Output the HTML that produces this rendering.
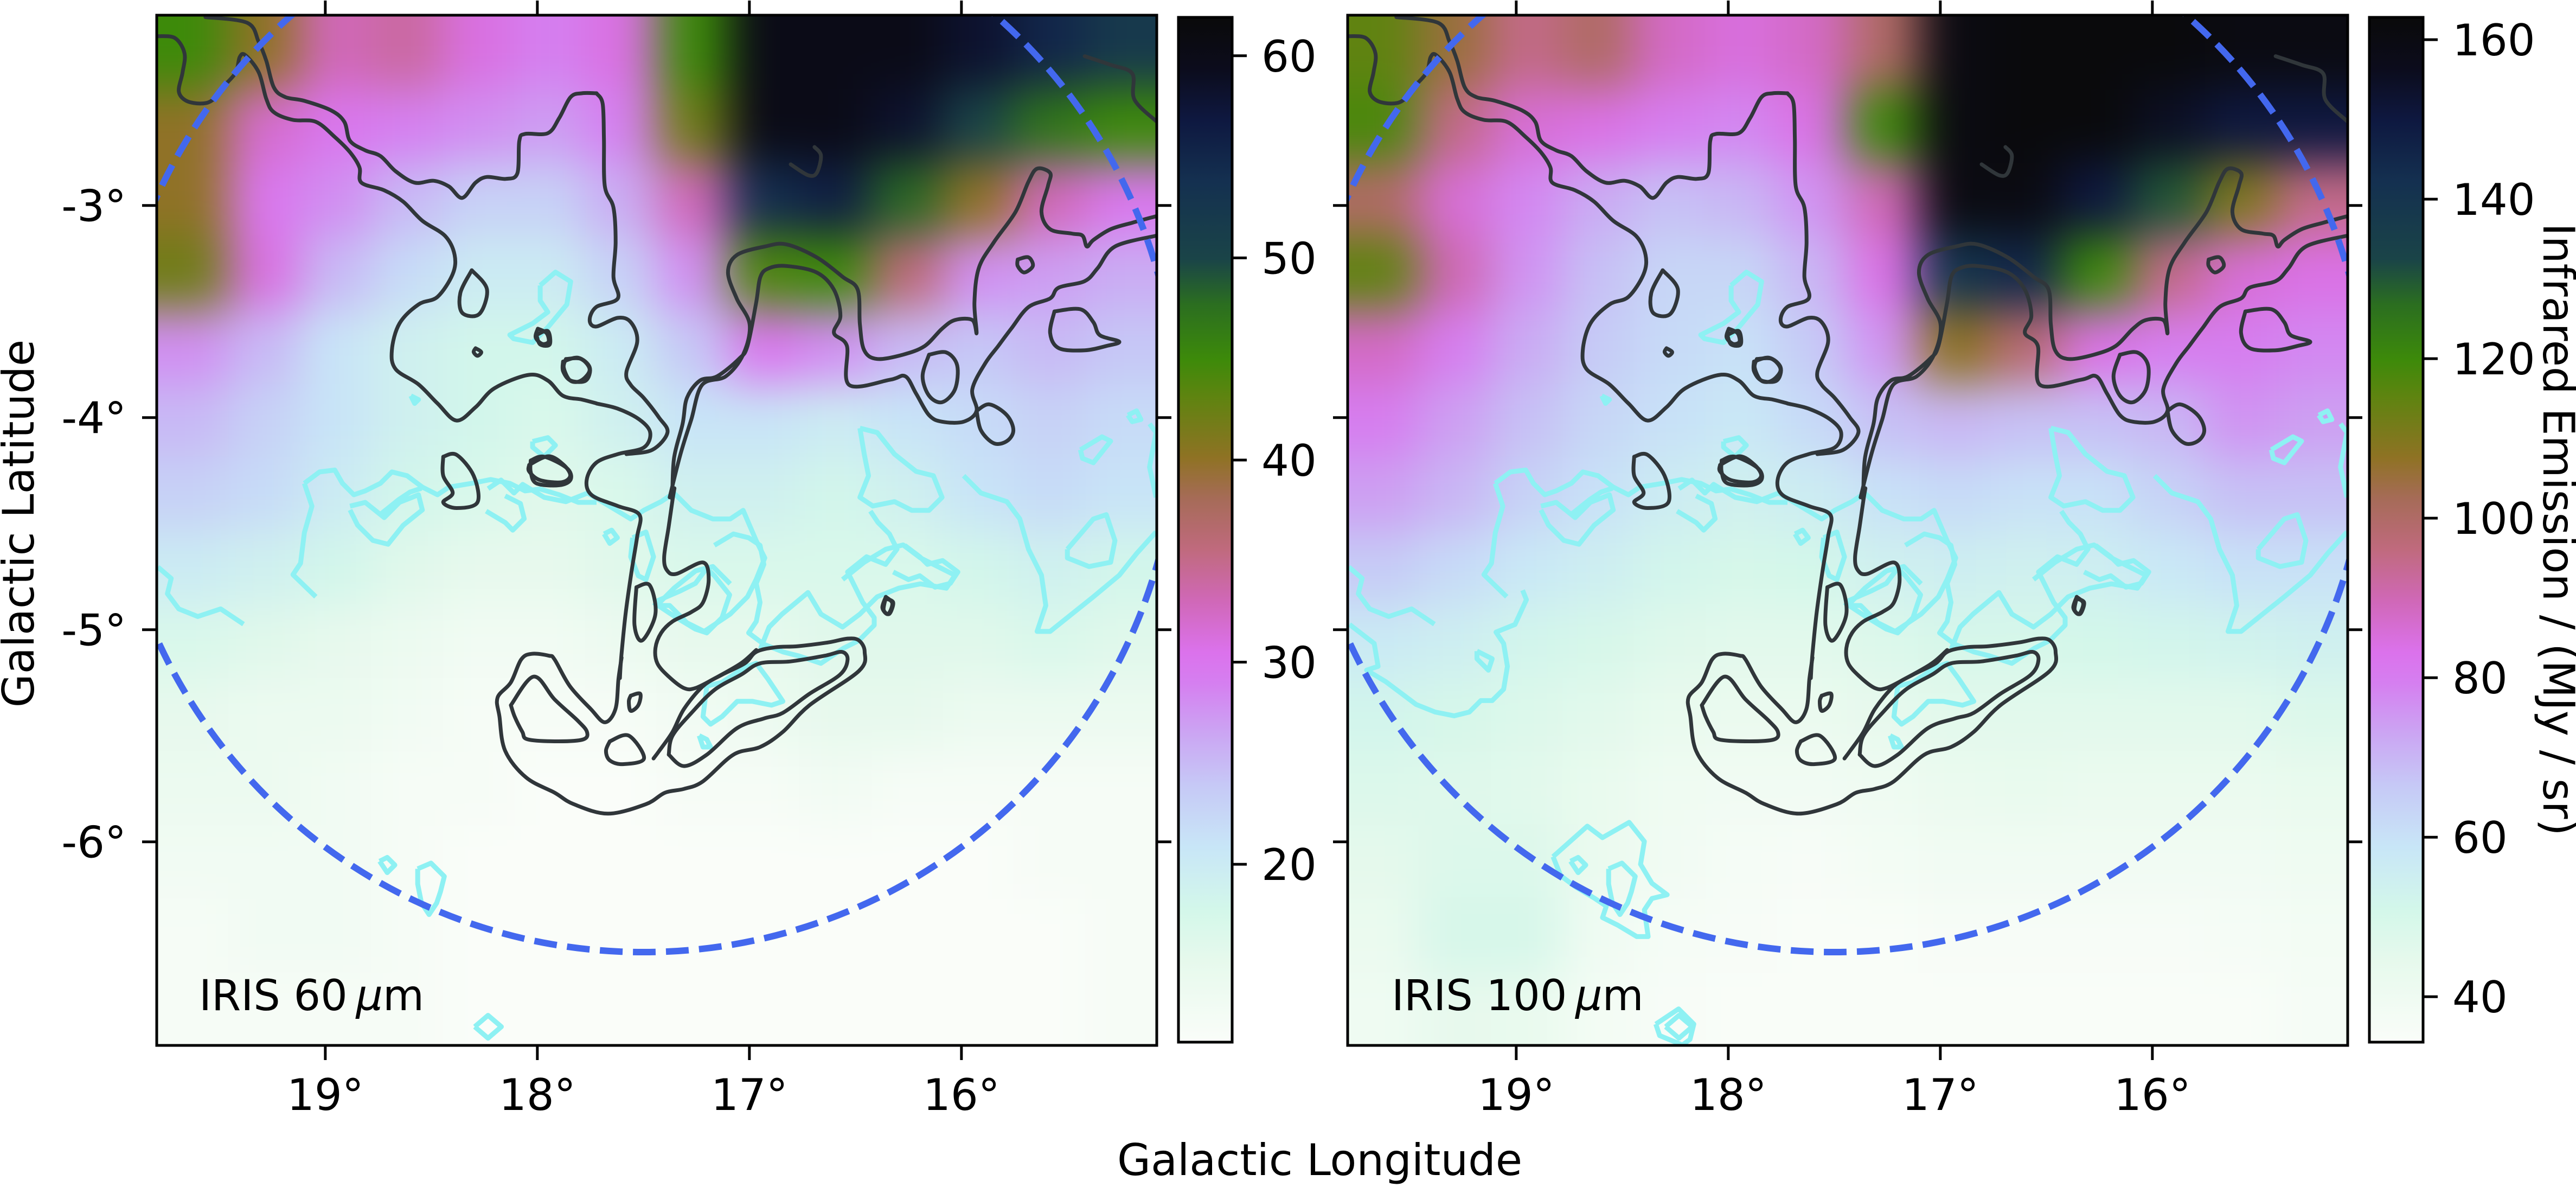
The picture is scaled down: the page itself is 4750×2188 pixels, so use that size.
<!DOCTYPE html>
<html><head><meta charset="utf-8"><title>IRIS maps</title>
<style>
html,body{margin:0;padding:0;background:#fff;}
svg{display:block;}
text{font-family:"DejaVu Sans","Liberation Sans",sans-serif;fill:#000;}
</style></head>
<body>
<svg id="fig" xmlns="http://www.w3.org/2000/svg" width="4750" height="2188" viewBox="0 0 4750 2188">
<defs>
<clipPath id="clip0"><rect x="289" y="28" width="1844" height="1899"/></clipPath>
<clipPath id="clip1"><rect x="2485" y="28" width="1844" height="1899"/></clipPath>
<filter id="blur0" filterUnits="userSpaceOnUse" x="0" y="-300" width="2500" height="2600" color-interpolation-filters="sRGB"><feGaussianBlur stdDeviation="42"/></filter>
<filter id="blur1" filterUnits="userSpaceOnUse" x="2200" y="-300" width="2500" height="2600" color-interpolation-filters="sRGB"><feGaussianBlur stdDeviation="42"/></filter>
<linearGradient id="cbgrad" x1="0" y1="1" x2="0" y2="0"></linearGradient>
</defs>
</svg>
<script>
// ---------- data ----------
const lonTicks = [19, 18, 17, 16];
const latTicks = [-3, -4, -5, -6];
const cb60Ticks = [20, 30, 40, 50, 60];
const cb100Ticks = [40, 60, 80, 100, 120, 140, 160];
const cb60Range = [11.2, 61.9];
const cb100Range = [34.3, 162.8];
const cmapT = [0, 0.08, 0.13, 0.19, 0.25, 0.3, 0.35, 0.38, 0.43, 0.48, 0.53, 0.57, 0.63, 0.666, 0.72, 0.764, 0.84, 0.9, 0.95, 1];
const cmapColors = ["#fafdf9","#e6f9ec","#d3f7ea","#c8e6f7","#c6c9f6","#cba6f3","#d57ff0","#db72ec","#d068b8","#c06a7e","#a66b58","#8f7224","#5e8410","#3d8a0a","#2b6e20","#1a4448","#143050","#0e1840","#0c0c1c","#0a0a0a"];
const circleCenter = [17.5, -4.0];
const circleRadiusDeg = 2.52;

const iris60 = [
 [45,40,33,34,31,29,31,45,60,60,60,58,55,52],
 [40,32,30,29,28,27,29,42,60,60,58,50,47,45],
 [40,30,28,25,23,23,26,33,54,56,48,40,33,30],
 [42,31,25,22,20,20,23,28,44,45,36,28,27,26],
 [28,25,21,19,18,18,20,24,30,28,25,24,25,24],
 [25,23,21,19,18,17,19,21,21,20,21,22,23,22],
 [23,22,20,18,17,16,17,19,19,18,19,21,22,21],
 [20,19,18,16,15,15,16,17,17,17,17,18,19,18],
 [17,16,15,14,13,13,14,15,15,16,16,16,17,16],
 [15,14,14,13,12,12,12,13,14,15,15,14,14,14],
 [14,14,13,12,12,11,11,12,12,13,12,12,12,12],
 [13,13,13,12,11,11,11,11,11,11,11,11,12,12],
 [12,13,13,12,11,11,11,11,11,11,11,11,11,12],
 [12,12,12,12,11,11,11,11,11,11,11,11,11,12]
];
const iris100 = [
 [115,105,95,100,88,85,88,100,160,162,162,162,160,160],
 [118,95,86,84,80,78,84,120,160,162,162,155,150,150],
 [100,86,78,72,68,70,76,90,160,160,150,130,110,95],
 [115,90,76,68,63,63,70,84,140,145,120,95,86,84],
 [88,80,72,66,62,60,66,76,108,98,84,80,80,78],
 [80,74,68,63,60,58,62,68,70,68,68,70,76,74],
 [74,70,64,60,56,54,56,60,62,60,60,64,68,68],
 [66,62,58,55,52,50,51,54,55,54,55,58,60,60],
 [57,55,52,50,47,46,46,48,50,50,51,52,53,54],
 [52,50,48,46,43,42,42,44,46,46,46,46,46,48],
 [48,47,46,43,40,39,39,40,42,43,42,42,42,43],
 [45,48,48,42,39,37,36,38,39,39,39,39,39,40],
 [42,50,50,40,37,36,35,35,36,36,36,36,37,38],
 [40,44,43,38,36,35,35,35,35,35,35,35,35,37]
];

// traced contour samples (trace-frame coordinates, converted to l/b below)
const traceFrames = {z4:[2050,1088,1.4255], z5:[0,0,1.4255], z6:[900,0,1.2544], z7:[700,900,1.4255]};
const blackTraces = [
 ['z5',[[415,95],[460,100],[485,140],[480,190],[470,240],[490,265],[530,272],[560,262],[590,225],[620,190],[630,150],[645,145],[680,190],[700,260],[720,295],[770,315],[830,320],[880,360],[920,400],[945,440],[950,480],[1010,500],[1060,530],[1110,580],[1170,620],[1195,670],[1190,720],[1150,780],[1100,800],[1050,850],[1030,920],[1040,970],[1100,1010],[1150,1060],[1200,1105],[1250,1070],[1300,1020],[1390,985],[1440,1000],[1480,1040],[1530,1050],[1568,1060]]],
 ['z6',[[251,933],[300,945],[350,970],[375,1000],[360,1035],[300,1050],[250,1070],[228,1110],[240,1145],[300,1170],[350,1190],[345,1240],[332,1320],[318,1420],[308,1520],[305,1568]]],
 ['z7',[[636,445],[628,500],[620,580],[592,615],[555,580],[500,520],[460,450],[445,440],[400,435],[372,450],[345,510],[310,550],[315,600],[330,690],[385,760],[460,800],[510,830],[600,855],[700,830],[750,800],[800,790],[850,770],[930,700],[1000,680],[1060,640],[1130,570],[1260,480],[1275,430],[1260,400],[1230,395],[1180,405],[1100,415],[1040,418],[990,430],[960,460],[900,490],[850,520],[800,580],[770,640],[735,690],[720,710]]],
 ['z5',[[540,45],[650,60],[680,110],[700,160],[720,230],[750,255],[800,265],[870,290],[905,320],[920,370],[960,395],[1000,410],[1040,450],[1090,480],[1140,475],[1180,490],[1215,520],[1250,480],[1280,465],[1330,470],[1360,455],[1365,370],[1380,352],[1440,350],[1470,310],[1500,255],[1530,245],[1568,245]]],
 ['z6',[[251,216],[265,240],[268,320],[270,430],[290,480],[295,560],[290,640],[300,690],[250,710],[235,740],[250,755],[300,735],[330,745],[345,790],[320,860],[330,890],[360,920],[395,965],[415,1000],[380,1040],[320,1050]]],
 ['z7',[[990,425],[950,460],[880,500],[830,525],[800,525],[760,495],[730,460],[725,420],[740,380],[770,350],[820,325],[850,300],[865,240],[850,195],[780,225],[755,215],[748,180],[760,100],[770,30],[775,0]]],
 ['z6',[[426,1155],[430,1060],[450,980],[460,920],[490,880],[530,870],[580,830],[600,800],[620,700],[630,640],[650,620],[690,615],[760,630],[800,670],[815,730],[800,770],[830,800],[835,890],[930,878],[965,870],[990,910],[1020,960],[1050,975],[1100,975],[1130,950],[1120,900],[1150,840],[1180,800],[1210,760],[1250,710],[1300,690],[1320,665],[1380,650],[1410,620],[1450,570],[1545,545]]],
 ['z6',[[420,1150],[445,1050],[470,970],[495,890],[550,870],[590,820],[605,750],[575,690],[555,630],[575,590],[640,570],[690,565],[760,595],[820,640],[855,670],[860,750],[870,810],[900,830],[960,820],[1010,800],[1050,760],[1080,740],[1120,740],[1130,770],[1125,700],[1135,620],[1170,560],[1220,490],[1250,420],[1270,390],[1300,400],[1295,430],[1280,490],[1300,530],[1350,540],[1375,545],[1385,570],[1400,555],[1440,530],[1490,515],[1545,500]]],
 ['z6',[[1380,130],[1440,150],[1490,170],[1495,230],[1545,280]]],
 ['z6',[[1310,720],[1370,715],[1400,745],[1415,775],[1460,790],[1430,800],[1380,810],[1320,805],[1300,770],[1310,720]]],
 ['z6',[[1020,820],[1060,815],[1085,845],[1080,900],[1050,930],[1020,915],[1005,870],[1020,820]]],
 ['z6',[[1130,950],[1160,935],[1200,960],[1215,995],[1200,1020],[1170,1025],[1140,995],[1130,950]]],
 ['z6',[[1225,600],[1250,595],[1260,615],[1240,630],[1225,615],[1225,600]]],
 ['z6',[[920,1380],[935,1395],[925,1420],[912,1405],[920,1380]]],
 ['z6',[[115,760],[135,770],[140,790],[125,795],[110,780],[115,760]]],
 ['z6',[[180,830],[215,830],[235,855],[215,880],[190,880],[175,850],[180,830]]],
 ['z6',[[95,1075],[140,1055],[175,1075],[190,1100],[170,1115],[120,1110],[95,1090],[95,1075]]],
 ['z6',[[700,380],[740,405],[760,400],[770,360],[755,340]]],
 ['z7',[[345,570],[405,495],[460,555],[520,610],[545,640],[535,660],[470,665],[390,660],[375,640],[355,600],[345,570]]],
 ['z7',[[605,665],[655,650],[695,710],[640,725],[605,715],[595,690],[605,665]]],
 ['z7',[[660,545],[685,540],[680,570],[660,585],[655,560],[660,545]]],
 ['z7',[[675,260],[710,255],[725,330],[690,400],[670,360],[675,260]]],
 ['z7',[[1330,290],[1350,300],[1340,330],[1325,320],[1330,290]]],
 ['z7',[[760,700],[800,730],[860,700],[940,630],[1010,605],[1060,590],[1130,540],[1210,490],[1230,450],[1215,430],[1170,440],[1080,455],[1000,460],[950,490],[880,530],[820,590],[770,650],[760,700]]],
 ['z5',[[1240,710],[1280,760],[1260,825],[1215,822],[1210,770],[1240,710]]],
 ['z5',[[1250,915],[1265,925],[1255,935],[1245,925],[1250,915]]],
 ['z5',[[1410,880],[1440,870],[1445,905],[1420,905],[1410,880]]],
 ['z5',[[1480,950],[1520,940],[1550,965],[1540,1000],[1500,1000],[1480,975],[1480,950]]],
 ['z5',[[1165,1200],[1200,1195],[1245,1250],[1255,1320],[1200,1335],[1165,1320],[1190,1295],[1165,1250],[1165,1200]]],
 ['z5',[[1395,1210],[1430,1200],[1490,1230],[1500,1260],[1470,1275],[1410,1270],[1395,1240],[1395,1210]]]
];
const cyanTraces = [
 ['z5',[[800,1270],[840,1240],[880,1235],[900,1270],[930,1300],[960,1290],[1000,1270],[1030,1240],[1070,1250],[1110,1280],[1150,1300],[1180,1280],[1240,1270],[1290,1260],[1340,1270],[1380,1290],[1420,1285],[1470,1300],[1520,1320],[1568,1320]]],
 ['z5',[[800,1270],[820,1330],[800,1400],[790,1480],[770,1510],[830,1568]]],
 ['z5',[[920,1330],[960,1320],[1010,1360],[1050,1320],[1100,1300],[1110,1340],[1060,1380],[1020,1430],[980,1420],[940,1380],[920,1340]]],
 ['z5',[[1420,750],[1460,715],[1500,740],[1490,800],[1440,860],[1400,900],[1350,890],[1340,880],[1400,850],[1440,820],[1420,790],[1420,750]]],
 ['z5',[[1080,1040],[1100,1050],[1090,1060],[1080,1040]]],
 ['z5',[[1400,1160],[1440,1150],[1460,1170],[1430,1200],[1400,1175],[1400,1160]]],
 ['z5',[[415,1490],[450,1520],[440,1560],[470,1600],[520,1620],[580,1600],[640,1640]]],
 ['z6',[[0,1130],[30,1110],[60,1140],[80,1120],[130,1150],[180,1160],[230,1140],[280,1170],[330,1200],[360,1180],[400,1160],[430,1140],[470,1180],[520,1200],[560,1200],[590,1180],[620,1250],[640,1290],[620,1340],[600,1380],[560,1420],[500,1460],[460,1440],[420,1400],[390,1400],[430,1360],[480,1320],[520,1310],[560,1350]]],
 ['z6',[[860,990],[900,1000],[940,1050],[990,1090],[1030,1100],[1050,1150],[1020,1180],[980,1180],[940,1160],[890,1170],[860,1150],[880,1100],[870,1050],[860,990]]],
 ['z6',[[1100,1100],[1140,1140],[1200,1160],[1230,1200],[1250,1270],[1280,1330],[1290,1400],[1270,1460],[1300,1460],[1350,1420],[1400,1380],[1460,1330],[1500,1280],[1545,1230]]],
 ['z6',[[820,1340],[870,1300],[920,1270],[960,1260],[1000,1290],[1040,1310],[1080,1330],[1060,1360],[1000,1350],[950,1360],[900,1380],[860,1420],[820,1450],[770,1420],[740,1370],[680,1420],[650,1450],[630,1500]]],
 ['z6',[[1340,1270],[1400,1200],[1430,1190],[1450,1250],[1440,1300],[1390,1310],[1340,1290],[1340,1270]]],
 ['z6',[[1370,1040],[1420,1010],[1440,1020],[1400,1070],[1375,1060],[1370,1040]]],
 ['z6',[[1480,960],[1500,950],[1510,970],[1490,975],[1480,960]]],
 ['z6',[[1530,980],[1545,1000],[1530,1080],[1545,1150]]],
 ['z7',[[0,70],[50,30],[80,10],[110,0]]],
 ['z7',[[280,60],[330,90],[350,110],[380,80],[370,40],[330,20]]],
 ['z7',[[590,120],[610,110],[625,130],[605,145],[590,120]]],
 ['z7',[[665,130],[700,115],[720,180],[700,240],[680,230],[660,180],[665,130]]],
 ['z7',[[720,300],[790,270],[830,250],[860,210],[880,230],[920,280],[900,340],[860,380],[830,370],[780,340],[720,300]]],
 ['z7',[[880,150],[930,120],[970,130],[1000,150],[1010,200],[990,250],[1000,300],[990,350],[970,380],[1010,410],[1060,430],[1100,440],[1160,460],[1220,420],[1260,400],[1300,360],[1300,340],[1270,300],[1250,260],[1230,220],[1280,180],[1330,200],[1360,160],[1340,120],[1310,90],[1290,60]]],
 ['z7',[[1380,150],[1420,180],[1440,200],[1480,190],[1520,220],[1500,250],[1460,260],[1420,230],[1390,240],[1350,220]]],
 ['z7',[[860,520],[900,510],[960,470],[990,460],[1020,500],[1060,560],[1030,570],[980,560],[940,560],[900,600],[870,620],[850,600],[860,520]]],
 ['z7',[[840,650],[860,660],[870,680],[850,680],[840,650]]],
 ['z7',[[0,980],[20,970],[40,990],[20,1010],[0,980]]],
 ['z7',[[100,1000],[135,985],[170,1020],[160,1060],[150,1090],[130,1120],[110,1090],[100,1040],[100,1000]]],
 ['z7',[[250,1415],[285,1385],[320,1415],[285,1445],[250,1415]]],
 ['z4',[[80,290],[100,285],[115,305],[100,335],[80,310],[80,290]]]
];
const cyanTraces100 = [
 ['z4',[[625,90],[690,140],[700,200],[670,210],[720,240],[760,270],[800,300],[850,320],[900,330],[940,320],[970,290],[1000,290],[1030,260],[1040,200],[1030,140],[1010,110],[1060,90],[1090,25],[1080,0]]],
 ['z4',[[960,160],[1000,180],[990,210],[960,180],[960,160]]],
 ['z4',[[1160,700],[1250,620],[1290,650],[1360,610],[1400,660],[1390,720],[1420,770],[1460,800],[1420,810],[1400,840],[1410,910],[1380,910],[1330,880],[1290,860],[1300,830],[1270,810],[1220,780],[1180,750],[1160,700]]],
 ['z4',[[1430,1140],[1490,1100],[1530,1140],[1520,1180],[1500,1195],[1440,1170],[1430,1140]]]
];

// ---------- axes ----------
const PANEL_X = [289, 2485], PANEL_Y = 28, PANEL_W = 1844, PANEL_H = 1899;
const PX_PER_DEG = 391;
function lonToX(l, p){ return PANEL_X[p] + (19.795 - l) * PX_PER_DEG; }
function latToY(b){ return PANEL_Y + (-2.103 - b) * PX_PER_DEG; }
function traceToLB(frame, pt, shift){
  const f = traceFrames[frame];
  const X = f[0] + pt[0] / f[2] - (shift || 0);
  const Y = f[1] + pt[1] / f[2];
  return [19.795 - (X - PANEL_X[0]) / PX_PER_DEG, -2.103 - (Y - PANEL_Y) / PX_PER_DEG];
}
const CB_X = [2173, 4369], CB_W = 99, CB_TOP = 32, CB_BOT = 1921;
function cbY(v, range){ return CB_BOT - (v - range[0]) / (range[1] - range[0]) * (CB_BOT - CB_TOP); }
function hex2rgb(h){ return [parseInt(h.slice(1,3),16),parseInt(h.slice(3,5),16),parseInt(h.slice(5,7),16)]; }
function cmap(t){
  t = Math.max(0, Math.min(1, t));
  for (let i = 1; i < cmapT.length; i++){
    if (t <= cmapT[i]){
      const a = hex2rgb(cmapColors[i-1]), b = hex2rgb(cmapColors[i]);
      const u = (t - cmapT[i-1]) / (cmapT[i] - cmapT[i-1]);
      return 'rgb(' + a.map((c,k)=>Math.round(c + (b[k]-c)*u)).join(',') + ')';
    }
  }
  return cmapColors[cmapColors.length-1];
}

const NS = 'http://www.w3.org/2000/svg';
const svg = document.getElementById('fig');
function mk(tag, attrs, parent){
  const e = document.createElementNS(NS, tag);
  for (const k in attrs) e.setAttribute(k, attrs[k]);
  (parent || svg).appendChild(e);
  return e;
}
function smoothPath(pts){
  if (pts.length < 3) return 'M' + pts.map(p=>p.join(',')).join('L');
  let d = 'M' + pts[0][0].toFixed(1) + ',' + pts[0][1].toFixed(1);
  for (let i = 0; i < pts.length - 1; i++){
    const p0 = pts[i-1] || pts[i], p1 = pts[i], p2 = pts[i+1], p3 = pts[i+2] || p2;
    const c1 = [p1[0] + (p2[0]-p0[0])/6, p1[1] + (p2[1]-p0[1])/6];
    const c2 = [p2[0] - (p3[0]-p1[0])/6, p2[1] - (p3[1]-p1[1])/6];
    d += 'C' + c1[0].toFixed(1) + ',' + c1[1].toFixed(1) + ' ' + c2[0].toFixed(1) + ',' + c2[1].toFixed(1) + ' ' + p2[0].toFixed(1) + ',' + p2[1].toFixed(1);
  }
  return d;
}

// colorbar gradient
const grad = document.getElementById('cbgrad');
for (let i = 0; i < cmapT.length; i++){
  const s = document.createElementNS(NS, 'stop');
  s.setAttribute('offset', cmapT[i]);
  s.setAttribute('stop-color', cmapColors[i]);
  grad.appendChild(s);
}

function drawPanel(p, grid, range, label, extraCyan){
  const panel = mk('g', {});
  
  
  const clipG = mk('g', {'clip-path': 'url(#clip' + p + ')'}, panel);
  const heat = mk('g', {filter: 'url(#blur' + p + ')'}, clipG);
  
  
  const rows = grid.length, cols = grid[0].length;
  const cw = PANEL_W / cols, ch = PANEL_H / rows;
  for (let r = 0; r < rows; r++){
    for (let c = 0; c < cols; c++){
      let x = PANEL_X[p] + c * cw, y = PANEL_Y + r * ch, w = cw + 1, h = ch + 1;
      if (c === 0){ x -= 200; w += 200; }
      if (c === cols - 1){ w += 200; }
      if (r === 0){ y -= 200; h += 200; }
      if (r === rows - 1){ h += 200; }
      const cell = mk('rect', {x: x, y: y, width: w, height: h, fill: cmap((grid[r][c] - range[0]) / (range[1] - range[0]))}, heat);
      
      
    }
  }
  // cyan contours
  const cyanG = mk('g', {fill: 'none', stroke: '#8ef1f3', 'stroke-width': 9, 'stroke-linejoin': 'round'}, clipG);
  
  
  const cy = cyanTraces.concat(extraCyan);
  cy.forEach(tr => {
    const shift = tr[0] === 'z4' ? 2196 : 0;
    const pts = tr[1].map(pt => { const lb = traceToLB(tr[0], pt, shift); return [lonToX(lb[0], p), latToY(lb[1])]; });
    const pl = mk('polyline', {points: pts.map(q => q[0].toFixed(1) + ',' + q[1].toFixed(1)).join(' ')}, cyanG);
    
    
  });
  // black contours
  const blackG = mk('g', {fill: 'none', stroke: '#30363a', 'stroke-width': 7, 'stroke-linejoin': 'round', 'stroke-linecap': 'round'}, clipG);
  
  
  blackTraces.forEach(tr => {
    const pts = tr[1].map(pt => { const lb = traceToLB(tr[0], pt, 0); return [lonToX(lb[0], p), latToY(lb[1])]; });
    const pa = mk('path', {d: smoothPath(pts)}, blackG);
    
    
  });
  // dashed circle
  const cx = lonToX(circleCenter[0], p), cyy = latToY(circleCenter[1]);
  const circ = mk('circle', {cx: cx, cy: cyy, r: circleRadiusDeg * PX_PER_DEG, fill: 'none', stroke: '#4368ee', 'stroke-width': 12, 'stroke-dasharray': '42 19'}, clipG);
  
  
  // label
  const lab = mk('text', {x: PANEL_X[p] + (p === 0 ? 78 : 81), y: 1862, 'font-size': 78}, panel);
  lab.innerHTML = label + '\u2009<tspan font-style="italic">\u00b5</tspan>m';
  
  
  // frame
  const fr = mk('rect', {x: PANEL_X[p], y: PANEL_Y, width: PANEL_W, height: PANEL_H, fill: 'none', stroke: '#000', 'stroke-width': 5}, panel);
  
  
  // ticks
  const tg = mk('g', {stroke: '#000', 'stroke-width': 5}, panel);
  
  
  lonTicks.forEach(l => {
    const x = lonToX(l, p);
    const t1 = mk('line', {x1: x, x2: x, y1: PANEL_Y, y2: PANEL_Y - 27}, tg);
    
    
    const t2 = mk('line', {x1: x, x2: x, y1: PANEL_Y + PANEL_H, y2: PANEL_Y + PANEL_H + 27}, tg);
    
    
    const tl = mk('text', {x: x, y: 2046, 'font-size': 80, 'text-anchor': 'middle'}, panel);
    tl.textContent = l + '\u00b0';
    
    
  });
  latTicks.forEach(b => {
    const y = latToY(b);
    const t1 = mk('line', {x1: PANEL_X[p], x2: PANEL_X[p] - 27, y1: y, y2: y}, tg);
    
    
    const t2 = mk('line', {x1: PANEL_X[p] + PANEL_W, x2: PANEL_X[p] + PANEL_W + 27, y1: y, y2: y}, tg);
    
    
    if (p === 0){
      const tl = mk('text', {x: 233, y: y + 29, 'font-size': 80, 'text-anchor': 'end'}, panel);
      tl.textContent = b + '\u00b0';
      
      
    }
  });
}

function drawColorbar(p, range, ticks){
  const g = mk('g', {});
  
  
  const r = mk('rect', {x: CB_X[p], y: CB_TOP, width: CB_W, height: CB_BOT - CB_TOP, fill: 'url(#cbgrad)', stroke: '#000', 'stroke-width': 5}, g);
  
  
  ticks.forEach(v => {
    const y = cbY(v, range);
    const t = mk('line', {x1: CB_X[p] + CB_W, x2: CB_X[p] + CB_W + 27, y1: y, y2: y, stroke: '#000', 'stroke-width': 5}, g);
    
    
    const tl = mk('text', {x: CB_X[p] + CB_W + 54, y: y + 29, 'font-size': 80}, g);
    tl.textContent = v;
    
    
  });
}

drawPanel(0, iris60, cb60Range, 'IRIS 60', []);
drawPanel(1, iris100, cb100Range, 'IRIS 100', cyanTraces100);
drawColorbar(0, cb60Range, cb60Ticks);
drawColorbar(1, cb100Range, cb100Ticks);

const yt = mk('text', {x: 0, y: 0, 'font-size': 80, 'text-anchor': 'middle', transform: 'translate(62,965) rotate(-90)'});
yt.textContent = 'Galactic Latitude';


const xt = mk('text', {x: 2060, y: 2166, 'font-size': 80});
xt.textContent = 'Galactic Longitude';


const ct = mk('text', {x: 0, y: 0, 'font-size': 80, 'text-anchor': 'middle', transform: 'translate(4690,976) rotate(90)'});
ct.textContent = 'Infrared Emission / (MJy / sr)';


</script>
</body></html>
